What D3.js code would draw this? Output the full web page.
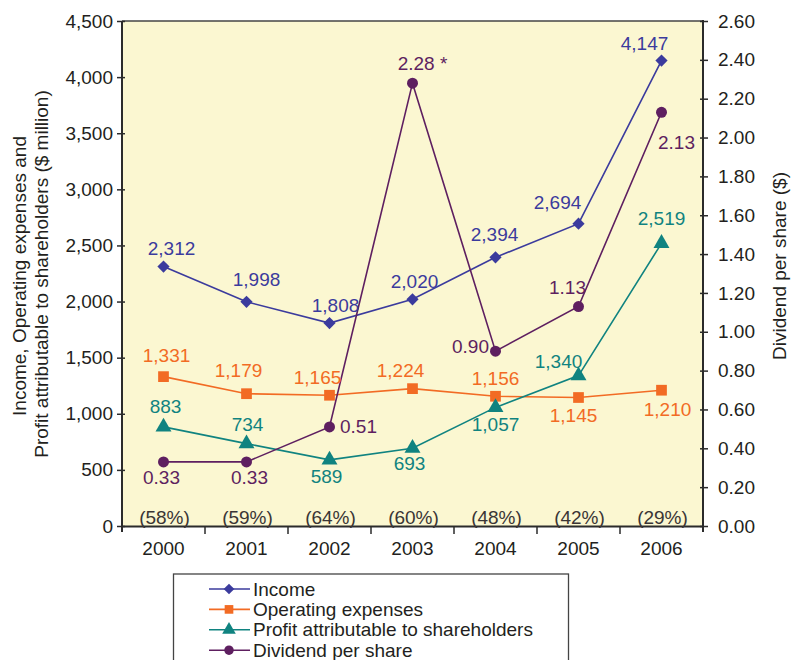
<!DOCTYPE html>
<html>
<head>
<meta charset="utf-8">
<script src="https://cdn.jsdelivr.net/npm/d3@7"></script>
<style>
  html, body { margin: 0; padding: 0; background: #ffffff; }
  svg { display: block; font-family: "Liberation Sans", Arial, Helvetica, sans-serif; }
</style>
</head>
<body>
<svg id="chart" width="791" height="660"></svg>
<script>
// Financial highlights 2000-2006
const years = ["2000", "2001", "2002", "2003", "2004", "2005", "2006"];
const income = [2312, 1998, 1808, 2020, 2394, 2694, 4147];
const operatingExpenses = [1331, 1179, 1165, 1224, 1156, 1145, 1210];
const profit = [883, 734, 589, 693, 1057, 1340, 2519];
const dividend = [0.33, 0.33, 0.51, 2.28, 0.90, 1.13, 2.13];
const dividendNotes = ["", "", "", " *", "", "", ""];
const payoutRatio = ["(58%)", "(59%)", "(64%)", "(60%)", "(48%)", "(42%)", "(29%)"];
const leftTicks = [0, 500, 1000, 1500, 2000, 2500, 3000, 3500, 4000, 4500];
const rightTicks = [0, 0.2, 0.4, 0.6, 0.8, 1.0, 1.2, 1.4, 1.6, 1.8, 2.0, 2.2, 2.4, 2.6];

const svg = d3.select("#chart");
const plot = { left: 122, right: 703, top: 21, bottom: 526 };
const fontSize = 19;

const x = d3.scaleBand().domain(years).range([plot.left, plot.right]);
const cx = d => x(d) + x.bandwidth() / 2;
const yL = d3.scaleLinear().domain([0, 4500]).range([plot.bottom, plot.top]);
const yR = d3.scaleLinear().domain([0, 2.6]).range([plot.bottom, plot.top]);

const axisColor = "#2b2b2b";
const textColor = "#231f20";
const diamond = d3.symbolDiamond2 || d3.symbolDiamond;

// plot background
svg.append("rect")
  .attr("x", plot.left).attr("y", plot.top)
  .attr("width", plot.right - plot.left).attr("height", plot.bottom - plot.top)
  .attr("fill", "#fbf7d1");

// top border
svg.append("line")
  .attr("x1", plot.left).attr("x2", plot.right)
  .attr("y1", plot.top).attr("y2", plot.top)
  .attr("stroke", "#444").attr("stroke-width", 1.6);

// left axis
const gL = svg.append("g").attr("transform", `translate(${plot.left},0)`)
  .call(d3.axisLeft(yL).tickValues(leftTicks).tickFormat(d3.format(",")).tickSize(5).tickPadding(4));
gL.select(".domain").remove();
gL.selectAll(".tick line").attr("x2", -5).attr("x1", 3).attr("stroke", axisColor).attr("stroke-width", 1.5);
gL.selectAll(".tick text").attr("font-size", fontSize).attr("fill", textColor)
  .attr("font-family", "Liberation Sans, Arial, sans-serif");
svg.append("line")
  .attr("x1", plot.left).attr("x2", plot.left)
  .attr("y1", plot.top).attr("y2", plot.bottom + 6)
  .attr("stroke", axisColor).attr("stroke-width", 2);

// right axis
const gR = svg.append("g").attr("transform", `translate(${plot.right},0)`)
  .call(d3.axisRight(yR).tickValues(rightTicks).tickFormat(d3.format(".2f")).tickSize(5).tickPadding(10));
gR.select(".domain").remove();
gR.selectAll(".tick line").attr("x1", -3).attr("x2", 5).attr("stroke", axisColor).attr("stroke-width", 1.5);
gR.selectAll(".tick text").attr("font-size", fontSize).attr("fill", textColor)
  .attr("font-family", "Liberation Sans, Arial, sans-serif");
svg.append("line")
  .attr("x1", plot.right).attr("x2", plot.right)
  .attr("y1", plot.top - 1).attr("y2", plot.bottom + 6)
  .attr("stroke", axisColor).attr("stroke-width", 2);

// bottom axis: ticks at category boundaries
const gB = svg.append("g").attr("transform", `translate(0,${plot.bottom})`)
  .call(d3.axisBottom(x).tickSize(0).tickPadding(16));
gB.select(".domain").attr("stroke", axisColor).attr("stroke-width", 2);
gB.selectAll(".tick text").attr("font-size", fontSize).attr("fill", textColor)
  .attr("font-family", "Liberation Sans, Arial, sans-serif");
gB.selectAll(".boundary").data(years.slice(1))
  .enter().append("line")
  .attr("x1", d => x(d)).attr("x2", d => x(d))
  .attr("y1", 0).attr("y2", 8)
  .attr("stroke", axisColor).attr("stroke-width", 1.5);

// axis titles
svg.append("text")
  .attr("transform", "translate(26,276) rotate(-90)")
  .attr("text-anchor", "middle").attr("font-size", fontSize).attr("fill", textColor)
  .text("Income, Operating expenses and");
svg.append("text")
  .attr("transform", "translate(48,274) rotate(-90)")
  .attr("text-anchor", "middle").attr("font-size", fontSize).attr("fill", textColor)
  .text("Profit attributable to shareholders ($ million)");
svg.append("text")
  .attr("transform", "translate(786,266) rotate(-90)")
  .attr("text-anchor", "middle").attr("font-size", fontSize).attr("fill", textColor)
  .text("Dividend per share ($)");

// series definitions
const colors = {
  income: "#3b3b9d",
  opex: "#f26b24",
  profit: "#108380",
  dividend: "#5e1f60"
};

const series = [
  { key: "income", values: income, scale: yL, color: colors.income, symbol: diamond, size: 95, fmt: d3.format(",") },
  { key: "opex", values: operatingExpenses, scale: yL, color: colors.opex, symbol: d3.symbolSquare, size: 115, fmt: d3.format(",") },
  { key: "profit", values: profit, scale: yL, color: colors.profit, symbol: d3.symbolTriangle, size: 110, fmt: d3.format(",") },
  { key: "dividend", values: dividend, scale: yR, color: colors.dividend, symbol: d3.symbolCircle, size: 95, fmt: d3.format(".2f") }
];

// label offsets per series and year [dx, dy] relative to the marker
const labelOffsets = {
  income:   [[8,-18],[10,-22],[6,-18],[2,-18],[-1,-23],[-21,-21],[-17,-17]],
  opex:     [[3,-21],[-8,-23],[-12,-18],[-12,-18],[0,-18],[-5,18],[6,19]],
  profit:   [[2,-20],[1,-19],[-3,17],[-3,15],[0,17],[-20,-14],[0,-25]],
  dividend: [[-2,16],[3,16],[29,0],[10,-20],[-25,-5],[-11,-19],[15,30]]
};

series.forEach(s => {
  const line = d3.line().x((d, i) => cx(years[i])).y(d => s.scale(d));
  svg.append("path").datum(s.values)
    .attr("d", line).attr("fill", "none")
    .attr("stroke", s.color).attr("stroke-width", 1.6);
  svg.selectAll(".m-" + s.key).data(s.values).enter().append("path")
    .attr("transform", (d, i) => `translate(${cx(years[i])},${s.scale(d)})`)
    .attr("d", d3.symbol().type(s.symbol).size(s.size))
    .attr("fill", s.color);
});

// value labels
series.forEach(s => {
  svg.selectAll(".l-" + s.key).data(s.values).enter().append("text")
    .attr("x", (d, i) => cx(years[i]) + labelOffsets[s.key][i][0])
    .attr("y", (d, i) => s.scale(d) + labelOffsets[s.key][i][1])
    .attr("text-anchor", "middle").attr("dominant-baseline", "central")
    .attr("font-size", fontSize).attr("fill", s.color)
    .text((d, i) => s.fmt(d) + (s.key === "dividend" ? dividendNotes[i] : ""));
});

// dividend payout ratios along the bottom
svg.selectAll(".payout").data(payoutRatio).enter().append("text")
  .attr("x", (d, i) => cx(years[i]) + 1)
  .attr("y", 517)
  .attr("text-anchor", "middle").attr("dominant-baseline", "central")
  .attr("font-size", fontSize).attr("fill", "#3a3535")
  .text(d => d);

// legend
const legendItems = [
  { label: "Income", color: colors.income, symbol: diamond, size: 72 },
  { label: "Operating expenses", color: colors.opex, symbol: d3.symbolSquare, size: 75 },
  { label: "Profit attributable to shareholders", color: colors.profit, symbol: d3.symbolTriangle, size: 80 },
  { label: "Dividend per share", color: colors.dividend, symbol: d3.symbolCircle, size: 70 }
];
svg.append("rect")
  .attr("x", 173.5).attr("y", 574).attr("width", 395).attr("height", 100)
  .attr("fill", "#ffffff").attr("stroke", "#444").attr("stroke-width", 1.3);
const lg = svg.selectAll(".legend").data(legendItems).enter().append("g")
  .attr("transform", (d, i) => `translate(0,${589 + i * 20.4})`);
lg.append("line").attr("x1", 209).attr("x2", 250).attr("y1", 0).attr("y2", 0)
  .attr("stroke", d => d.color).attr("stroke-width", 1.6);
lg.append("path").attr("transform", "translate(229,0)")
  .attr("d", d => d3.symbol().type(d.symbol).size(d.size)())
  .attr("fill", d => d.color);
lg.append("text").attr("x", 253).attr("y", 0).attr("dominant-baseline", "central")
  .attr("font-size", fontSize).attr("fill", textColor).text(d => d.label);
</script>
</body>
</html>
